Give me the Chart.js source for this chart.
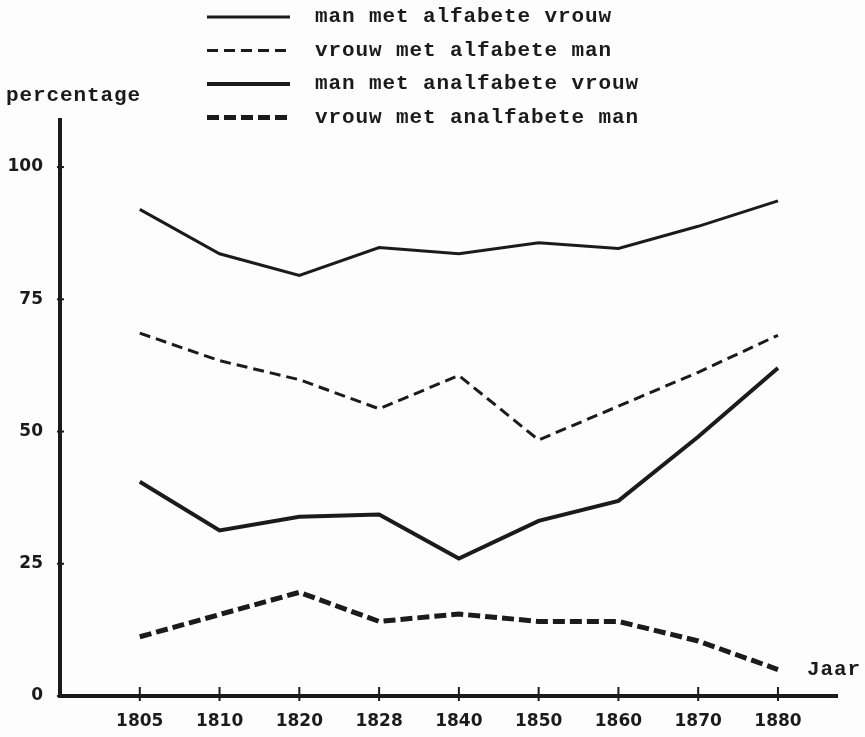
<!DOCTYPE html>
<html>
<head>
<meta charset="utf-8">
<script src="https://cdn.jsdelivr.net/npm/chart.js@4/dist/chart.umd.min.js"></script>
<style>
  html, body { margin: 0; padding: 0; background: #fdfdfd; }
  #wrap { width: 865px; height: 737px; }
</style>
</head>
<body>
<div id="wrap"><canvas id="literacyChart" width="865" height="737"></canvas></div>
<script>
const years = ['1805', '1810', '1820', '1828', '1840', '1850', '1860', '1870', '1880'];
const yTicks = [0, 25, 50, 75, 100];

const manAlfVrouw = [92, 83.6, 79.5, 84.8, 83.6, 85.7, 84.6, 88.8, 93.6];
const vrouwAlfMan = [68.6, 63.4, 59.8, 54.3, 60.6, 48.4, 54.8, 61.2, 68.2];
const manAnalfVrouw = [40.5, 31.3, 33.9, 34.3, 26.0, 33.1, 36.9, 49.0, 62.0];
const vrouwAnalfMan = [11.2, 15.4, 19.6, 14.1, 15.5, 14.1, 14.1, 10.4, 5.0];

const ink = '#1b1b1b';
const monoFont = 'bold 21px "Liberation Mono", "DejaVu Sans Mono", monospace';

function toPoints(values) {
    return values.map((v, i) => ({ x: i, y: v }));
}

// axis tick marks, legend and free text labels
const decorPlugin = {
    id: 'decor',
    afterDraw(chart) {
        const ctx = chart.ctx;
        const x = chart.scales.x;
        const y = chart.scales.y;
        const area = chart.chartArea;

        ctx.save();
        ctx.strokeStyle = ink;
        ctx.fillStyle = ink;
        ctx.lineWidth = 2;

        y.ticks.forEach(t => {
            const py = y.getPixelForValue(t.value);
            ctx.beginPath();
            ctx.moveTo(area.left - 3, py);
            ctx.lineTo(area.left + 4, py);
            ctx.stroke();
        });
        x.ticks.forEach(t => {
            const px = x.getPixelForValue(t.value);
            ctx.beginPath();
            ctx.moveTo(px, area.bottom - 9);
            ctx.lineTo(px, area.bottom + 5);
            ctx.stroke();
        });

        ctx.font = monoFont;
        ctx.letterSpacing = '0.9px';
        ctx.textBaseline = 'middle';
        ctx.textAlign = 'left';

        chart.data.datasets.forEach((ds, i) => {
            const ly = 17 + i * 33.5;
            ctx.lineWidth = ds.borderWidth;
            ctx.setLineDash(ds.borderDash || []);
            ctx.beginPath();
            ctx.moveTo(207, ly);
            ctx.lineTo(290, ly);
            ctx.stroke();
            ctx.setLineDash([]);
            ctx.fillText(ds.label, 315, ly);
        });

        ctx.fillText('percentage', 6, 96);
        ctx.fillText('Jaar', 807, 670);
        ctx.restore();
    }
};

const ctx = document.getElementById('literacyChart').getContext('2d');
const literacyChart = new Chart(ctx, {
    type: 'line',
    data: {
        datasets: [
            { label: 'man met alfabete vrouw', data: toPoints(manAlfVrouw), borderWidth: 3, borderDash: [] },
            { label: 'vrouw met alfabete man', data: toPoints(vrouwAlfMan), borderWidth: 3, borderDash: [11, 6] },
            { label: 'man met analfabete vrouw', data: toPoints(manAnalfVrouw), borderWidth: 4, borderDash: [] },
            { label: 'vrouw met analfabete man', data: toPoints(vrouwAnalfMan), borderWidth: 5, borderDash: [12, 5] }
        ].map(ds => Object.assign(ds, {
            borderColor: ink,
            backgroundColor: ink,
            pointRadius: 0,
            tension: 0,
            fill: false
        }))
    },
    options: {
        responsive: false,
        devicePixelRatio: 1,
        animation: false,
        layout: { padding: { top: 120, right: 28, left: 0, bottom: 0 } },
        plugins: {
            legend: { display: false },
            tooltip: { enabled: false }
        },
        scales: {
            x: {
                type: 'linear',
                min: -1,
                max: 8.74,
                afterFit: scale => { scale.height = 41; },
                afterBuildTicks: scale => { scale.ticks = years.map((_, i) => ({ value: i })); },
                ticks: {
                    padding: 15,
                    color: ink,
                    font: { family: '"DejaVu Sans", sans-serif', size: 17, weight: 'bold' },
                    callback: value => years[value]
                },
                grid: { drawOnChartArea: false, drawTicks: false },
                border: { display: true, color: ink, width: 4 }
            },
            y: {
                type: 'linear',
                min: 0,
                max: 108.9,
                afterFit: scale => { scale.width = 60; },
                afterBuildTicks: scale => { scale.ticks = yTicks.map(v => ({ value: v })); },
                ticks: {
                    padding: 17,
                    color: ink,
                    font: { family: '"DejaVu Sans", sans-serif', size: 17, weight: 'bold' }
                },
                grid: { drawOnChartArea: false, drawTicks: false },
                border: { display: true, color: ink, width: 4 }
            }
        }
    },
    plugins: [decorPlugin]
});
</script>
</body>
</html>
